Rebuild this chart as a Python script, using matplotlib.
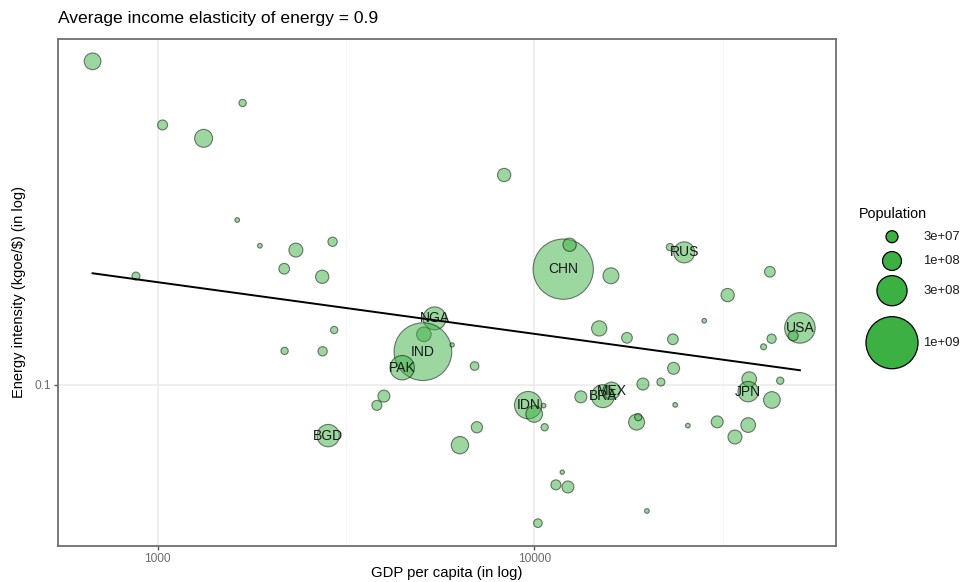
import numpy as np
import matplotlib
matplotlib.use("Agg")
import matplotlib.pyplot as plt

plt.rcParams['font.family'] = ['Liberation Sans', 'DejaVu Sans']

# GDP per capita ($), energy intensity (kgoe/$), population (millions)
gdp = [672, 1682, 1031, 1325, 1627, 1869, 2329, 2915, 2169, 2736, 876,
       8322, 11940, 12417, 15986, 22930, 25020, 42250, 32630,
       2944, 2174, 2743, 5439, 5095, 5064, 4462, 3990, 3822, 2838,
       6057, 6945, 14880, 17630, 23350, 28280, 23450, 50760, 48720,
       42690, 40650, 45000, 37230, 37000, 42770, 19440, 21700, 13300,
       15220, 16050, 9640, 10000, 10590, 10660, 7044, 6350, 18700,
       18890, 23680, 25590, 30610, 37000, 34120, 11870, 11420, 12290,
       19920, 10230]
intensity = [0.4164, 0.3465, 0.3145, 0.2965, 0.2068, 0.1846, 0.1811, 0.1879,
             0.1668, 0.1610, 0.1615,
             0.2522, 0.1665, 0.1854, 0.1617, 0.1835, 0.1793, 0.1646, 0.1485,
             0.1273, 0.1161, 0.1159, 0.1340, 0.1249, 0.1157, 0.1078, 0.0951,
             0.0913, 0.0799,
             0.1192, 0.1086, 0.1282, 0.1230, 0.1222, 0.1326, 0.1075, 0.1285,
             0.1241, 0.1225, 0.1182, 0.1018, 0.1025, 0.0970, 0.0935, 0.1003,
             0.1012, 0.0948, 0.0951, 0.0974, 0.0914, 0.0879, 0.0912, 0.0829,
             0.0829, 0.0766, 0.0848, 0.0867, 0.0915, 0.0835, 0.0849, 0.0837,
             0.0794, 0.0680, 0.0643, 0.0637, 0.0573, 0.0543]
population = [73, 5.8, 17.5, 88, 0.5, 0.5, 46, 13.8, 21.5, 40, 8.3,
              40, 1370, 40, 65, 5.8, 130, 21.5, 40,
              5.8, 5.8, 13.8, 160, 52, 1250, 185, 30, 17.5, 150,
              0.2, 11, 58, 21.5, 21.5, 0.5, 30, 310, 17.5,
              13.8, 2.5, 5.8, 52, 120, 73, 30, 8.3, 30,
              160, 80, 240, 73, 0.5, 5.8, 25, 80, 65,
              5.8, 0.5, 0.5, 30, 52, 46, 0.2, 17.5, 30,
              0.5, 11]
labels = ['', '', '', '', '', '', '', '', '', '', '',
          '', 'CHN', '', '', '', 'RUS', '', '',
          '', '', '', 'NGA', '', 'IND', 'PAK', '', '', 'BGD',
          '', '', '', '', '', '', '', 'USA', '',
          '', '', '', '', 'JPN', '', '', '', '',
          'BRA', 'MEX', 'IDN', '', '', '', '', '', '',
          '', '', '', '', '', '', '', '', '',
          '', '']

# fitted line (elasticity 0.9)
fit_gdp = [672, 50760]
fit_intensity = [0.1635, 0.1066]

legend_pop = [30, 100, 300, 1000]
legend_text = ['3e+07', '1e+08', '3e+08', '1e+09']


def bubble(p):
    d_px = 3.6 + 56.7 * np.sqrt(np.asarray(p, dtype=float) / 1370)
    return (d_px * 0.72) ** 2


fig = plt.figure(figsize=(9.63, 5.82), dpi=100)
ax = fig.add_axes([58 / 963, 1 - 546 / 582, (835.5 - 58) / 963, (546 - 39) / 582])

ax.scatter(gdp, intensity, s=bubble(population), facecolor=(0.235, 0.69, 0.263, 0.5),
           edgecolor=(0, 0, 0, 0.5), linewidths=0.8, zorder=3)
for x, y, t in zip(gdp, intensity, labels):
    if t:
        ax.text(x, y, t, ha='center', va='center', fontsize=10, color='#1a1a1a', zorder=4)
ax.plot(fit_gdp, fit_intensity, color='black', lw=1.4, zorder=5)

ax.set_xscale('log')
ax.set_yscale('log')
ax.set_xlim(544, 63100)
ax.set_ylim(0.0491, 0.4595)
ax.set_xticks([1000, 10000])
ax.set_xticklabels(['1000', '10000'])
ax.set_xticks([10 ** 3.5, 10 ** 4.5], minor=True)
ax.set_yticks([0.1])
ax.set_yticklabels(['0.1'])
ax.set_yticks([], minor=True)
ax.tick_params(which='major', length=3, width=1, color='#555555', labelcolor='#6b6b6b', labelsize=8.6, pad=2)
ax.tick_params(which='minor', length=0)
ax.grid(which='major', color='#ebebeb', lw=1.1, zorder=0)
ax.grid(which='minor', axis='x', color='#f5f5f5', lw=0.6, zorder=0)
ax.set_axisbelow(True)
for sp in ax.spines.values():
    sp.set_color('#6e6e6e')
    sp.set_linewidth(1.3)

ax.set_xlabel('GDP per capita (in log)', fontsize=10.7, labelpad=1)
ax.set_ylabel('Energy intensity (kgoe/$) (in log)', fontsize=10.5, labelpad=6)
fig.text(58 / 963, 1 - 18 / 582, 'Average income elasticity of energy = 0.9',
         fontsize=12.6, ha='left', va='center')

# legend for bubble size
lax = fig.add_axes([840 / 963, 1 - 380 / 582, 123 / 963, 180 / 582])
lax.set_xlim(840, 963)
lax.set_ylim(380, 200)
lax.axis('off')
key_y = [236.7, 261, 290.7, 342.7]
lax.scatter([892] * 4, key_y, s=bubble(legend_pop), facecolor='#3cb043', edgecolor='black',
            linewidths=0.9, clip_on=False)
for y, t in zip(key_y, legend_text):
    lax.text(923, y, t, ha='left', va='center', fontsize=9.4, color='#1a1a1a')
lax.text(859, 214, 'Population', ha='left', va='center', fontsize=10.4)

fig.savefig('out.png', dpi=100)
